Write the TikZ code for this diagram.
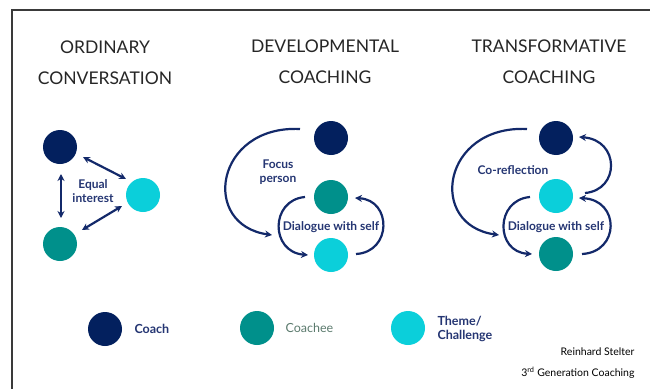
\documentclass[tikz,border=0pt]{standalone}
\usepackage{fontspec}
\setmainfont{Lato}
\usetikzlibrary{arrows.meta}
\definecolor{coach}{HTML}{03205E}
\definecolor{coachee}{HTML}{00908B}
\definecolor{theme}{HTML}{0BCFDA}
\definecolor{navy}{HTML}{13296A}
\definecolor{lbl}{HTML}{253673}
\definecolor{greentxt}{HTML}{5C7B6E}
\definecolor{frame}{HTML}{3A3A3A}
\tikzset{
  dot/.style={circle,minimum size=34pt,inner sep=0pt},
  coachdot/.style={dot,fill=coach},
  coacheedot/.style={dot,fill=coachee},
  themedot/.style={dot,fill=theme},
  title/.style={align=center,font=\fontsize{17.5}{31}\selectfont,text=black!85},
  lab/.style={align=center,font=\fontsize{12}{14.5}\selectfont\bfseries,text=lbl},
  legtxt/.style={anchor=west,align=left,font=\fontsize{12.5}{14.5}\selectfont\bfseries,text=lbl},
  conn/.style={draw=navy,line width=2.2pt,-{Stealth[length=7pt,width=7pt]}},
  biconn/.style={draw=navy,line width=2.2pt,{Stealth[length=7pt,width=7pt]}-{Stealth[length=7pt,width=7pt]}},
}
\begin{document}
\begin{tikzpicture}[x=1pt,y=-1pt]
\useasboundingbox (0,0) rectangle (650,388);
\fill[white] (0,0) rectangle (650,388);
% frame
\draw[frame,line width=1.5pt] (12,390) -- (12,10) -- (652,10);
% titles
\node[title] (t1) at (105,63) {ORDINARY\\CONVERSATION};
\node[title] (t2) at (325,62) {DEVELOPMENTAL\\COACHING};
\node[title] (t3) at (549,62) {TRANSFORMATIVE\\COACHING};

% ordinary conversation
\node[coachdot] (oA) at (60,147) {};
\node[themedot] (oT) at (143,195) {};
\node[coacheedot] (oC) at (60,244) {};
\node[lab] (oL) at (93,191) {Equal\\interest};
\coordinate (o1) at (83,157);
\coordinate (o2) at (126,179);
\coordinate (o3) at (61,174);
\coordinate (o4) at (61,218);
\coordinate (o5) at (122,206);
\coordinate (o6) at (82,230);
\draw[biconn] (o1) -- (o2);
\draw[biconn] (o3) -- (o4);
\draw[biconn] (o5) -- (o6);

% developmental coaching
\node[coachdot] (dA) at (331,138) {};
\node[coacheedot] (dC) at (331,197) {};
\node[themedot] (dT) at (331,255) {};
\node[lab] (dL1) at (278,172) {Focus\\person};
\node[lab] (dL2) at (331,227) {Dialogue with self};
\coordinate (d1) at (300,129);
\coordinate (d2) at (272,235);
\coordinate (d3) at (305,197);
\coordinate (d4) at (308,255);
\coordinate (d5) at (356,254);
\coordinate (d6) at (355,198);
\draw[conn] (d1) .. controls (215,125) and (200,225) .. (d2);
\draw[conn] (d3) .. controls (270,200) and (270,252) .. (d4);
\draw[conn] (d5) .. controls (392,252) and (392,200) .. (d6);

% transformative coaching
\node[coachdot] (rA) at (556,138) {};
\node[themedot] (rT) at (556,196) {};
\node[coacheedot] (rC) at (556,254) {};
\node[lab] (rL1) at (513,170) {Co-reflection};
\node[lab] (rL2) at (556,227) {Dialogue with self};
\coordinate (r1) at (527,129);
\coordinate (r2) at (499,235);
\coordinate (r3) at (585,193);
\coordinate (r4) at (579,137);
\coordinate (r5) at (530,197);
\coordinate (r6) at (532,254);
\coordinate (r7) at (582,254);
\coordinate (r8) at (579,198);
\draw[conn] (r1) .. controls (442,125) and (427,225) .. (r2);
\draw[conn] (r3) .. controls (620,190) and (620,140) .. (r4);
\draw[conn] (r5) .. controls (495,200) and (495,252) .. (r6);
\draw[conn] (r7) .. controls (620,252) and (620,200) .. (r8);

% legend
\node[coachdot] (lA) at (105,329) {};
\node[legtxt] (lAt) at (131,329) {Coach};
\node[coacheedot] (lC) at (257,328) {};
\node[legtxt,text=greentxt,font=\fontsize{12.5}{14.5}\selectfont] (lCt) at (282,328) {Coachee};
\node[themedot] (lT) at (408,328) {};
\node[legtxt] (lTt) at (434,329) {Theme/\\Challenge};

% credits
\node[anchor=east,font=\fontsize{10.5}{12}\selectfont,text=black] (cr1) at (638,352) {Reinhard Stelter};
\node[anchor=east,font=\fontsize{10.5}{12}\selectfont,text=black] (cr2) at (638,373) {3\textsuperscript{rd} Generation Coaching};
\end{tikzpicture}
\end{document}
